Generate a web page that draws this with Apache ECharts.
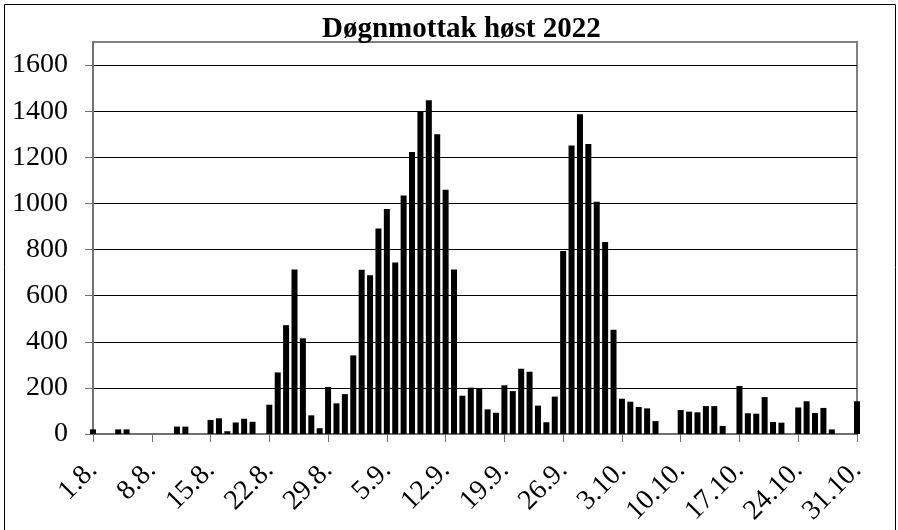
<!DOCTYPE html>
<html>
<head>
<meta charset="utf-8">
<script src="https://cdn.jsdelivr.net/npm/echarts@6/dist/echarts.min.js"></script>
<style>
  html, body { margin: 0; padding: 0; background: #fff; }
  #chart { width: 898px; height: 530px; }
</style>
</head>
<body>
<div id="chart"></div>
<script>
// daily values, 1.8. - 31.10.
const augustValues = [
  20, 0, 0, 20, 20, 0, 0, 0, 0, 0,
  32, 32, 0, 0, 61, 68, 12, 50, 66, 53,
  0, 127, 267, 472, 713, 415, 81, 25, 204, 133,
  173
]
const septemberValues = [
  341, 712, 688, 891, 976, 744, 1034, 1223, 1401, 1447,
  1300, 1059, 713, 166, 201, 196, 107, 92, 211, 186,
  283, 270, 123, 51, 162, 794, 1251, 1387, 1258, 1007
]
const octoberValues = [
  833, 452, 153, 140, 117, 111, 56, 0, 0, 104,
  97, 94, 121, 121, 35, 0, 208, 90, 88, 160,
  52, 49, 0, 115, 142, 91, 113, 20, 0, 0,
  142
]
const tickLabels = ['1.8.', '8.8.', '15.8.', '22.8.', '29.8.', '5.9.', '12.9.',
  '19.9.', '26.9.', '3.10.', '10.10.', '17.10.', '24.10.', '31.10.']
const yTicks = [0, 200, 400, 600, 800, 1000, 1200, 1400, 1600]

const allValues = augustValues.concat(septemberValues, octoberValues)
const barData = allValues.map((v, i) => [i, v])

const serif = 'Liberation Serif, Times New Roman, serif'
const chart = echarts.init(document.getElementById('chart'))

chart.setOption({
  animation: false,
  backgroundColor: '#fff',
  title: {
    text: 'Døgnmottak høst 2022',
    left: 322,
    top: 15,
    padding: 0,
    z: 10,
    textStyle: {
      fontFamily: serif,
      fontWeight: 'bold',
      fontSize: 29,
      color: '#000'
    }
  },
  graphic: [{
    type: 'rect',
    silent: true,
    shape: { x: 4.5, y: 4.5, width: 891, height: 540 },
    style: { fill: 'none', stroke: '#000', lineWidth: 1 }
  }],
  grid: {
    left: 93,
    right: 41,
    top: 42,
    bottom: 96,
    show: true,
    borderColor: '#808080',
    borderWidth: 2
  },
  xAxis: {
    type: 'value',
    min: 0,
    max: 91,
    interval: 7,
    splitLine: { show: false },
    axisLine: { lineStyle: { color: '#707070', width: 2 } },
    axisTick: { show: true, inside: false, length: 8, lineStyle: { color: '#707070', width: 1 } },
    axisLabel: {
      rotate: 45,
      margin: 32,
      fontFamily: serif,
      fontSize: 28,
      color: '#000',
      formatter: v => tickLabels[Math.round(v / 7)]
    }
  },
  yAxis: {
    type: 'value',
    min: 0,
    max: 1700,
    interval: 200,
    axisLine: { show: true, lineStyle: { color: '#707070', width: 2 } },
    axisTick: { show: true, length: 8, customValues: yTicks, lineStyle: { color: '#707070', width: 1 } },
    splitLine: { show: true, lineStyle: { color: '#000', width: 1 } },
    axisLabel: {
      customValues: yTicks,
      margin: 25,
      fontFamily: serif,
      fontSize: 28,
      color: '#000',
      formatter: v => String(v)
    }
  },
  series: [{
    type: 'bar',
    data: barData,
    barWidth: 6,
    clip: false,
    itemStyle: { color: '#000' }
  }]
})
</script>
</body>
</html>
